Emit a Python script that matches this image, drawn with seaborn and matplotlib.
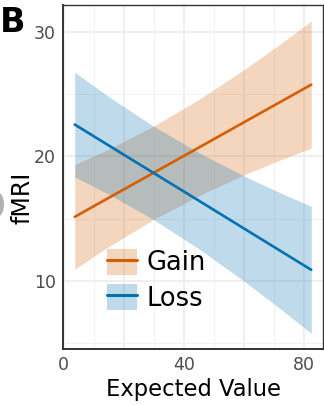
import matplotlib
matplotlib.use("Agg")
import matplotlib.pyplot as plt
import seaborn as sns
import pandas as pd
from matplotlib.patches import Patch, Ellipse
from matplotlib.lines import Line2D
from matplotlib.legend_handler import HandlerTuple

# ---- data ----
x_pts = [3.7, 15, 30, 45, 60, 72, 82.3]
gain_fit = [15.15, 16.68, 18.70, 20.72, 22.75, 24.37, 25.76]
gain_lo = [10.95, 12.77, 14.95, 16.86, 18.53, 19.72, 20.66]
gain_hi = [19.35, 20.59, 22.45, 24.58, 26.97, 29.02, 30.86]
loss_fit = [22.56, 20.88, 18.66, 16.44, 14.21, 12.43, 10.90]
loss_lo = [18.36, 16.97, 14.91, 12.58, 9.99, 7.78, 5.80]
loss_hi = [26.76, 24.79, 22.41, 20.30, 18.43, 17.08, 16.00]
groups = ["Gain", "Loss"]
colors = {"Gain": "#D55E00", "Loss": "#0072B2"}
x_ticks = [0, 20, 40, 60, 80]
x_ticklabels = ["0", "", "40", "", "80"]
y_ticks = [10, 20, 30]

df = pd.DataFrame({
    "ev": x_pts * 2,
    "fit": gain_fit + loss_fit,
    "lo": gain_lo + loss_lo,
    "hi": gain_hi + loss_hi,
    "group": ["Gain"] * len(x_pts) + ["Loss"] * len(x_pts),
})

sns.set_style("white")
plt.rcParams["font.family"] = ["DejaVu Sans"]
plt.rcParams["text.color"] = "black"

fig = plt.figure(figsize=(3.24, 4.05), dpi=100)
ax = fig.add_axes([63 / 324, 1 - 349 / 405, 260 / 324, 344 / 405])

# grid
ax.set_xticks([10, 30, 50, 70], minor=True)
ax.set_yticks([5, 15, 25], minor=True)
ax.grid(True, which="major", color="#EBEBEB", linewidth=1.1, zorder=0)
ax.grid(True, which="minor", color="#F2F2F2", linewidth=0.7, zorder=0)
ax.set_axisbelow(True)

for g in groups:
    d = df[df["group"] == g]
    ax.fill_between(d["ev"], d["lo"], d["hi"], color=colors[g], alpha=0.25,
                    linewidth=0, zorder=2)

sns.lineplot(data=df, x="ev", y="fit", hue="group", palette=colors,
             linewidth=1.9, ax=ax, legend=False, zorder=3)

ax.set_xlim(-0.2, 86.2)
ax.set_ylim(4.55, 32.15)
ax.set_xticks(x_ticks)
ax.set_xticklabels(x_ticklabels)
ax.set_yticks(y_ticks)
ax.tick_params(axis="both", which="major", length=3, width=1, color="#333333",
               labelsize=12.5, labelcolor="#4D4D4D", pad=2)
ax.tick_params(axis="both", which="minor", length=0)

for s in ax.spines.values():
    s.set_color("#333333")
    s.set_linewidth(1.0)
ax.spines["left"].set_linewidth(1.4)
ax.spines["bottom"].set_linewidth(1.4)

ax.set_xlabel("Expected Value", fontsize=16.3, color="black", labelpad=3)
ax.set_ylabel("fMRI", fontsize=17, color="black")
ax.yaxis.set_label_coords(-0.11, 0.439)

handles = [(Patch(facecolor=colors[g], alpha=0.25, edgecolor="none"),
            Line2D([], [], color=colors[g], linewidth=2.2)) for g in groups]
fig.legend(handles, groups, handler_map={tuple: HandlerTuple(ndivide=1, pad=0)},
           loc="upper left", bbox_to_anchor=(107 / 324, 1 - 249 / 405),
           bbox_transform=fig.transFigure, frameon=False, fontsize=18.5,
           handlelength=1.16, handleheight=1.15, handletextpad=0.38,
           labelspacing=0.3, borderpad=0, borderaxespad=0, labelcolor="black")

fig.text(0.0, 1 - 6 / 405, "B", fontsize=24, fontweight="bold", ha="left", va="top")

# partially cropped grey mark at the left edge
fig.patches.append(Ellipse((-3 / 324, 1 - 204.5 / 405), 14 / 324, 25 / 405,
                           transform=fig.transFigure, facecolor="#B0B0B0",
                           edgecolor="none"))

fig.savefig("out.png", dpi=100)
